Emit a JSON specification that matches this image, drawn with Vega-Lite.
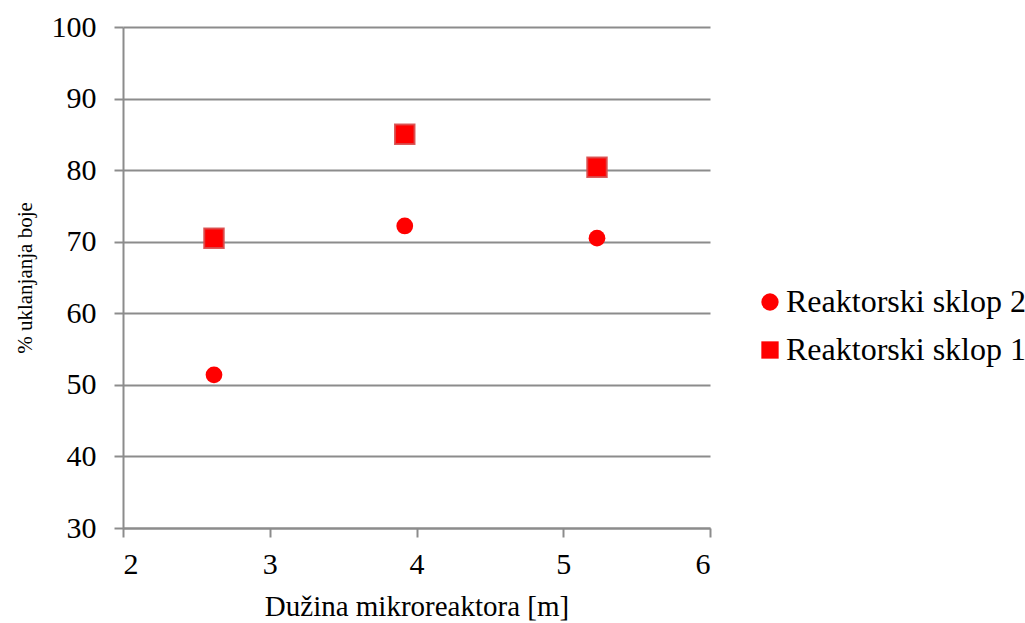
{
  "$schema": "https://vega.github.io/schema/vega-lite/v6.json",
  "width": 587,
  "height": 501,
  "autosize": {"type": "none"},
  "padding": {"left": 123, "top": 27, "right": 315, "bottom": 95},
  "background": "white",
  "config": {
    "font": "Liberation Serif",
    "view": {"stroke": null}
  },
  "data": {
    "values": [
      {"x": 2.62, "y": 51.4, "series": "Reaktorski sklop 2"},
      {"x": 3.92, "y": 72.2, "series": "Reaktorski sklop 2"},
      {"x": 5.23, "y": 70.5, "series": "Reaktorski sklop 2"},
      {"x": 2.62, "y": 70.5, "series": "Reaktorski sklop 1"},
      {"x": 3.92, "y": 85.0, "series": "Reaktorski sklop 1"},
      {"x": 5.23, "y": 80.4, "series": "Reaktorski sklop 1"}
    ]
  },
  "encoding": {
    "x": {
      "field": "x",
      "type": "quantitative",
      "scale": {"domain": [2, 6], "nice": false, "zero": false},
      "axis": {
        "title": "Dužina mikroreaktora [m]",
        "titleFont": "Liberation Serif",
        "titleFontSize": 29,
        "titleFontWeight": "normal",
        "titleColor": "black",
        "titlePadding": 13,
        "values": [2, 3, 4, 5, 6],
        "labelFont": "Liberation Serif",
        "labelFontSize": 30,
        "labelColor": "black",
        "labelPadding": 12,
        "tickSize": 9,
        "tickColor": "#8c8c8c",
        "tickWidth": 2,
        "domainColor": "#8c8c8c",
        "domainWidth": 2,
        "grid": false
      }
    },
    "y": {
      "field": "y",
      "type": "quantitative",
      "scale": {"domain": [30, 100], "nice": false, "zero": false},
      "axis": {
        "title": "% uklanjanja boje",
        "titleFont": "Liberation Serif",
        "titleFontSize": 21,
        "titleFontWeight": "normal",
        "titleColor": "black",
        "titlePadding": 16,
        "values": [30, 40, 50, 60, 70, 80, 90, 100],
        "labelFont": "Liberation Serif",
        "labelFontSize": 30,
        "labelColor": "black",
        "labelPadding": 18,
        "tickSize": 9,
        "tickColor": "#8c8c8c",
        "tickWidth": 2,
        "domainColor": "#8c8c8c",
        "domainWidth": 2,
        "grid": true,
        "gridColor": "#8c8c8c",
        "gridWidth": 2
      }
    },
    "shape": {
      "field": "series",
      "type": "nominal",
      "scale": {"domain": ["Reaktorski sklop 2", "Reaktorski sklop 1"], "range": ["circle", "square"]},
      "legend": {
        "title": null,
        "orient": "none",
        "legendX": 631,
        "legendY": 259,
        "labelFont": "Liberation Serif",
        "labelFontSize": 32,
        "labelColor": "black",
        "labelOffset": 0,
        "labelLimit": 400,
        "symbolSize": 300,
        "symbolFillColor": "#ff0000",
        "symbolStrokeColor": "#e04848",
        "symbolStrokeWidth": 1,
        "rowPadding": 16
      }
    }
  },
  "layer": [
    {
      "transform": [{"filter": "datum.series === 'Reaktorski sklop 2'"}],
      "mark": {"type": "point", "filled": true, "opacity": 1, "color": "#ff0000", "size": 280, "strokeWidth": 0}
    },
    {
      "transform": [{"filter": "datum.series === 'Reaktorski sklop 1'"}],
      "mark": {"type": "point", "filled": true, "opacity": 1, "fill": "#ff0000", "size": 380, "stroke": "#d84a4a", "strokeWidth": 2, "strokeOpacity": 0.9}
    }
  ]
}
